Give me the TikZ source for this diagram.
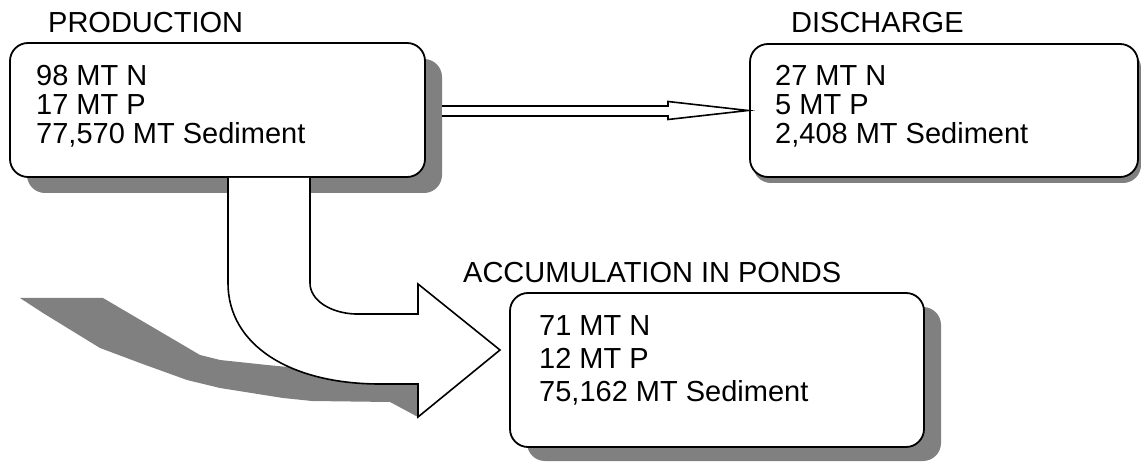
\documentclass[tikz,border=0pt]{standalone}
\usepackage{fontspec}
\setmainfont{Liberation Sans}
\usetikzlibrary{calc,positioning,shadows}
\definecolor{shadowgray}{RGB}{128,128,128}

\begin{document}
\begin{tikzpicture}[
  x=1pt,y=-1pt,
  pool/.style={draw=black,line width=1.8pt,rounded corners=18pt,fill=white,anchor=north west,inner sep=0pt,outer sep=0pt},
  amounts/.style={align=left,anchor=north west,inner sep=0pt,font=\fontsize{29pt}{29pt}\selectfont},
  heading/.style={anchor=base west,inner sep=0pt,font=\fontsize{29pt}{29pt}\selectfont},
  flow/.style={draw=black,line width=1.6pt,fill=white,line join=miter}
]
  \useasboundingbox (0,0) rectangle (1141,462);

  % the three pools with their drop shadows
  \node[pool,minimum width=415pt,minimum height=134pt,
    drop shadow={shadow xshift=17pt,shadow yshift=-16pt,fill=shadowgray,opacity=1}] (prod) at (10,43) {};
  \node[pool,minimum width=388pt,minimum height=133pt,
    drop shadow={shadow xshift=3pt,shadow yshift=-6pt,fill=shadowgray,opacity=1}] (dis) at (750,44) {};
  \node[pool,minimum width=414pt,minimum height=154pt,
    drop shadow={shadow xshift=17pt,shadow yshift=-14pt,fill=shadowgray,opacity=1}] (acc) at (510,293) {};

  \node[heading] (prodlbl) at (48,33) {PRODUCTION};
  \node[heading] (dislbl) at (791,33) {DISCHARGE};
  \node[heading] (acclbl) at (463,283) {ACCUMULATION IN PONDS};

  \node[amounts] (prodtxt) at ([shift={(26,22)}]prod.north west) {98 MT N\\17 MT P\\77,570 MT Sediment};
  \node[amounts] (distxt) at ([shift={(25,21)}]dis.north west) {27 MT N\\5 MT P\\2,408 MT Sediment};
  \node[amounts,font=\fontsize{29pt}{33pt}\selectfont] (acctxt) at ([shift={(29,22)}]acc.north west) {71 MT N\\12 MT P\\75,162 MT Sediment};

  % production -> discharge
  \coordinate (d0) at ([shift={(17,1)}]prod.east);
  \coordinate (d1) at ([xshift=-2pt]dis.west);
  \coordinate (hb) at ([xshift=-80pt]d1);
  \coordinate (s1) at ([yshift=5pt]d0);
  \coordinate (s2) at ([yshift=-5pt]d0);
  \draw[flow] (s1) -- (s1 -| hb) -- ([yshift=9pt]hb) -- (d1)
    -- ([yshift=-9pt]hb) -- (s2 -| hb) -- (s2);

  % production -> ponds, shadow first
  \fill[shadowgray] (20,298) -- (103,298) -- (200,355) -- (220,360) -- (267,365)
    -- (340,372) -- (418,372) -- (418,417) -- (390,402) -- (312,401) -- (283,398)
    -- (220,388) -- (187,380) -- (140,363) -- (100,348) -- (43,313) -- cycle;
  \coordinate (c0) at ([shift={(218,1)}]prod.south west);
  \coordinate (c1) at ([shift={(300,1)}]prod.south west);
  \coordinate (ctip) at ([shift={(-10,-20)}]acc.west);
  \draw[flow] (c0) -- ++(0,105) .. controls +(0,62) and +(-90,0) .. ++(152,101)
    -- ++(38,0) -- ++(0,33) -- (ctip) -- ++(-82,-66) -- ++(0,30) -- ++(-63,0)
    .. controls +(-25,-1) and +(0,17) .. ++(-45,-31) -- (c1);
\end{tikzpicture}
\end{document}
